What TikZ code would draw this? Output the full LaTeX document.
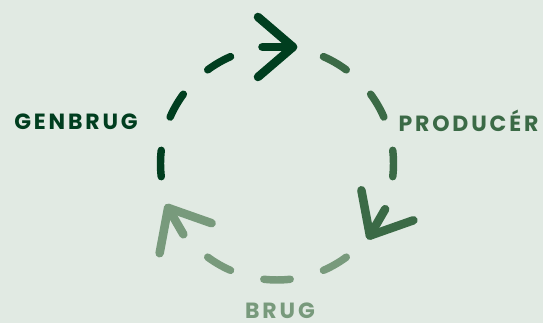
\documentclass[tikz,border=0pt]{standalone}
\usepackage{fontspec}
\setmainfont{Poppins}[LetterSpace=13]
\definecolor{bgc}{HTML}{E1EAE3}
\definecolor{gdark}{HTML}{003E1F}
\definecolor{gmid}{HTML}{3B6A46}
\definecolor{glight}{HTML}{789A7C}
\tikzset{
  dashseg/.style={line width=5.6pt, line cap=round},
  chevron/.style={line width=6.4pt, line cap=round, line join=round},
  lbl/.style={font=\fontsize{16.5}{19}\selectfont\bfseries, inner sep=0pt, anchor=base},
}
\newcommand{\cyclegroup}[1]{%
  \foreach \a in {180,150,120}
    \draw[dashseg, #1] (\a+6.5:116.5) arc[start angle=\a+6.5, end angle=\a-6.5, radius=116.5];
  \draw[chevron, #1] (-14.5,116.5) -- (16,116.5);
  \draw[chevron, #1] (-19,146.5) -- (16,116.5) -- (-19,86.5);
}
\begin{document}
\begin{tikzpicture}[x=0.75pt, y=0.75pt]
\fill[bgc] (-277,-159.5) rectangle (266,163.5);
\useasboundingbox (-277,-159.5) rectangle (266,163.5);
\begin{scope}\cyclegroup{gdark}\end{scope}
\begin{scope}[rotate=-120]\cyclegroup{gmid}\end{scope}
\begin{scope}[rotate=-240]\cyclegroup{glight}\end{scope}
\node[lbl, text=gdark] (genbrug) at (-201,33.5) {GENBRUG};
\node[lbl, text=gmid] (producer) at (191.5,32) {PRODUCÉR};
\node[lbl, text=glight] (brug) at (3,-155.3) {BRUG};
\end{tikzpicture}
\end{document}
